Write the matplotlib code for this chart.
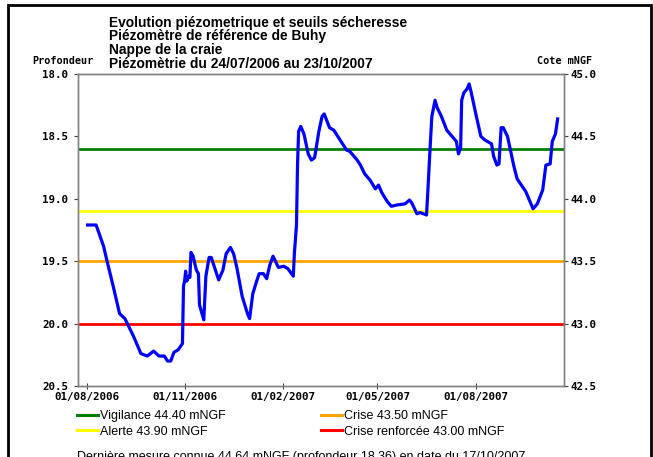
import matplotlib
matplotlib.use("Agg")
import matplotlib.pyplot as plt
import matplotlib.dates as mdates
from matplotlib.patches import Rectangle
import numpy as np
import pandas as pd


# DATA

dates = ["2006-08-02", "2006-08-10", "2006-08-17", "2006-08-20", "2006-08-26",
         "2006-09-01", "2006-09-06", "2006-09-14", "2006-09-21", "2006-09-27",
         "2006-10-03", "2006-10-08", "2006-10-13", "2006-10-16", "2006-10-19",
         "2006-10-22", "2006-10-26", "2006-10-30", "2006-10-31", "2006-11-01",
         "2006-11-02", "2006-11-03", "2006-11-05", "2006-11-06", "2006-11-07",
         "2006-11-09", "2006-11-12", "2006-11-14", "2006-11-15", "2006-11-18",
         "2006-11-19", "2006-11-21", "2006-11-24", "2006-11-26", "2006-12-03",
         "2006-12-07", "2006-12-10", "2006-12-14", "2006-12-17", "2006-12-20",
         "2006-12-25", "2006-12-30", "2007-01-01", "2007-01-04", "2007-01-08",
         "2007-01-10", "2007-01-14", "2007-01-17", "2007-01-20", "2007-01-23",
         "2007-01-28", "2007-02-02", "2007-02-06", "2007-02-11", "2007-02-12",
         "2007-02-14", "2007-02-15", "2007-02-16", "2007-02-18", "2007-02-21",
         "2007-02-25", "2007-02-28", "2007-03-03", "2007-03-07", "2007-03-10",
         "2007-03-12", "2007-03-17", "2007-03-21", "2007-03-27", "2007-04-02",
         "2007-04-05", "2007-04-12", "2007-04-15", "2007-04-19", "2007-04-24",
         "2007-04-29", "2007-05-02", "2007-05-05", "2007-05-10", "2007-05-14",
         "2007-05-19", "2007-05-27", "2007-05-31", "2007-06-02", "2007-06-07",
         "2007-06-10", "2007-06-16", "2007-06-17", "2007-06-19", "2007-06-21",
         "2007-06-24", "2007-06-26", "2007-06-30", "2007-07-05", "2007-07-10",
         "2007-07-14", "2007-07-16", "2007-07-18", "2007-07-19", "2007-07-21",
         "2007-07-24", "2007-07-26", "2007-07-28", "2007-08-01", "2007-08-06",
         "2007-08-10", "2007-08-16", "2007-08-18", "2007-08-21", "2007-08-23",
         "2007-08-25", "2007-08-27", "2007-08-31", "2007-09-06", "2007-09-09",
         "2007-09-17", "2007-09-24", "2007-09-28", "2007-10-03", "2007-10-06",
         "2007-10-10", "2007-10-12", "2007-10-15", "2007-10-17"]

profondeur = [19.21, 19.21, 19.38, 19.49, 19.70,
              19.92, 19.96, 20.10, 20.24, 20.26,
              20.22, 20.26, 20.26, 20.30, 20.30,
              20.23, 20.21, 20.16, 19.70, 19.66,
              19.58, 19.66, 19.62, 19.63, 19.43,
              19.46, 19.57, 19.60, 19.85, 19.94,
              19.97, 19.62, 19.47, 19.47, 19.65,
              19.57, 19.44, 19.39, 19.44, 19.55,
              19.78, 19.92, 19.96, 19.76, 19.65,
              19.60, 19.60, 19.64, 19.53, 19.46,
              19.55, 19.54, 19.56, 19.62, 19.44,
              19.21, 18.72, 18.46, 18.42, 18.48,
              18.64, 18.69, 18.67, 18.46, 18.34,
              18.32, 18.43, 18.45, 18.53, 18.61,
              18.62, 18.69, 18.73, 18.80, 18.85,
              18.92, 18.89, 18.95, 19.02, 19.06,
              19.05, 19.04, 19.01, 19.03, 19.12,
              19.11, 19.13, 18.98, 18.65, 18.34,
              18.21, 18.27, 18.34, 18.45, 18.50,
              18.54, 18.64, 18.59, 18.21, 18.15,
              18.12, 18.08, 18.15, 18.31, 18.50,
              18.53, 18.56, 18.66, 18.73, 18.72,
              18.43, 18.43, 18.50, 18.74, 18.84,
              18.94, 19.08, 19.04, 18.93, 18.73,
              18.72, 18.54, 18.48, 18.36]

repere = 63.0      # cote mNGF = repere - profondeur

seuil_noms = ["Vigilance", "Alerte", "Crise", "Crise renforcée"]
seuil_cotes = [44.40, 43.90, 43.50, 43.00]
seuil_couleurs = ["#008000", "#ffff00", "#ffa500", "#ff0000"]

date_debut = "2006-07-24"
date_fin = "2007-10-23"
xtick_dates = ["2006-08-01", "2006-11-01", "2007-02-01", "2007-05-01", "2007-08-01"]
yticks = [18.0, 18.5, 19.0, 19.5, 20.0, 20.5]

titre = ["Evolution piézometrique et seuils sécheresse",
         "Piézomètre de référence de Buhy",
         "Nappe de la craie",
         "Piézomètrie du 24/07/2006 au 23/10/2007"]


# FIGURE

W, H = 653, 457
fig = plt.figure(figsize=(W / 100, H / 100), dpi=100)

# plot area in pixels: x 78..564, y 74..386
ax = fig.add_axes([78 / W, 1 - 386 / H, (564 - 78) / W, (386 - 74) / H])

mono = dict(family="DejaVu Sans Mono", weight="bold", size=7.8)
sans = "Liberation Sans"

x = pd.to_datetime(dates)

for nom, cote, coul in zip(seuil_noms, seuil_cotes, seuil_couleurs):
    ax.axhline(repere - cote, color=coul, lw=2.0, zorder=2,
               label=f"{nom} {cote:.2f} mNGF")

ax.plot(x, profondeur, color="#0000ff", lw=2.3, zorder=3)

ax.set_xlim(pd.Timestamp(date_debut), pd.Timestamp(date_fin))
ax.set_ylim(20.5, 18.0)
ax.set_yticks(yticks)
ax.set_yticklabels([f"{v:.1f}" for v in yticks], fontdict=mono)
ax.set_xticks(pd.to_datetime(xtick_dates))
ax.xaxis.set_major_formatter(mdates.DateFormatter("%d/%m/%Y"))
for lab in ax.get_xticklabels():
    lab.set(**mono)

ax2 = ax.twinx()
ax2.set_ylim(repere - 20.5, repere - 18.0)
cotes_ticks = [repere - v for v in yticks]
ax2.set_yticks(cotes_ticks)
ax2.set_yticklabels([f"{v:.1f}" for v in cotes_ticks], fontdict=mono)

for a in (ax, ax2):
    for s in a.spines.values():
        s.set_color("#808080")
        s.set_linewidth(1.0)
ax.tick_params(axis="y", direction="out", length=3, width=0.8, color="#404040", pad=4)
ax2.tick_params(axis="y", direction="out", length=3, width=0.8, color="#404040", pad=2)
ax.tick_params(axis="x", direction="inout", length=5, width=0.8, color="#404040", pad=1.5)

# axis captions
fig.text(63 / W, 1 - 61.5 / H, "Profondeur", ha="center", va="center",
         family="DejaVu Sans Mono", weight="bold", size=7.3)
fig.text(565 / W, 1 - 61.5 / H, "Cote mNGF", ha="center", va="center",
         family="DejaVu Sans Mono", weight="bold", size=7.3)

# title block
for i, ligne in enumerate(titre):
    fig.text(109 / W, 1 - (26.5 + 13.9 * i) / H, ligne, ha="left", va="baseline",
             family=sans, weight="bold", size=9.9)

# legend of thresholds
leg = ax.legend(loc="upper left", bbox_to_anchor=(77 / W, 1 - 410 / H),
                bbox_transform=fig.transFigure, ncol=2, frameon=False,
                prop=dict(family=sans, size=9.0), handlelength=1.7,
                handletextpad=0.15, columnspacing=7.6, labelspacing=0.3,
                borderpad=0, borderaxespad=0)
for line in leg.get_lines():
    line.set_linewidth(2.2)

fig.text(77 / W, 1 - 451 / H,
         "Dernière mesure connue 44.64 mNGF (profondeur 18.36) en date du 17/10/2007",
         ha="left", va="top", family=sans, size=9.0)

# outer frame (bottom edge is cropped in the reference)
fig.patches.append(Rectangle((8 / W, -0.05), (651 - 8) / W, 1.05 - 5 / H,
                             transform=fig.transFigure, fill=False,
                             ec="black", lw=2.0))

fig.savefig("out.png", dpi=100, facecolor="white")
